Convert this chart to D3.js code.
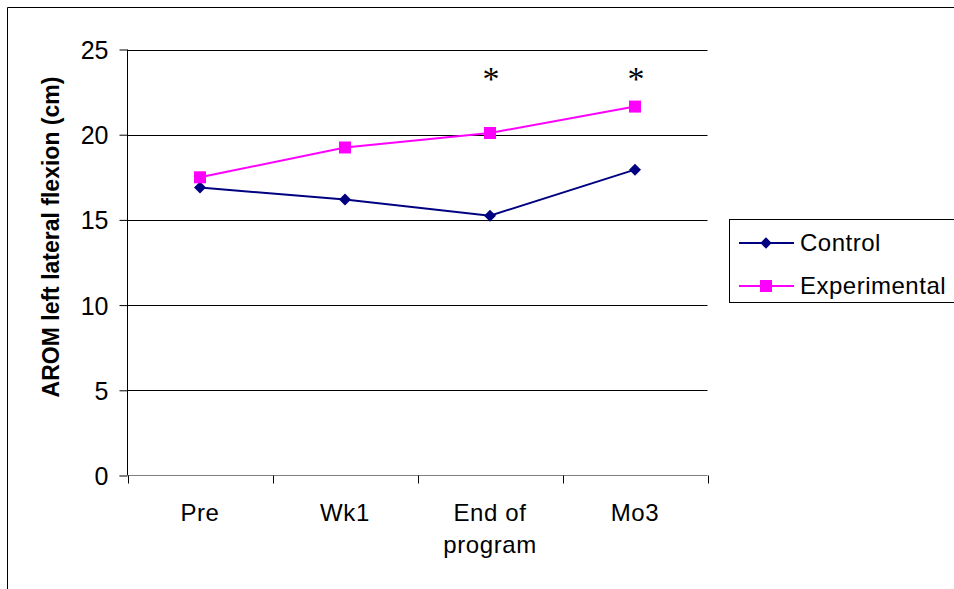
<!DOCTYPE html>
<html><head><meta charset="utf-8">
<script src="https://cdn.jsdelivr.net/npm/d3@7"></script>
<style>body{margin:0;background:#fff}svg{display:block}</style>
</head><body>
<script>
const categories = [["Pre"], ["Wk1"], ["End of", "program"], ["Mo3"]];
const seriesNames = ["Control", "Experimental"];
const control = [16.9, 16.2, 15.25, 17.95];
const experimental = [17.5, 19.25, 20.1, 21.65];
const yTicks = [0, 5, 10, 15, 20, 25];
const significant = [false, false, true, true];

(function() {
const W = 954, H = 589;
const svg = d3.select("body").append("svg").attr("width", W).attr("height", H);
svg.append("rect").attr("width", W).attr("height", H).attr("fill", "#fff");
svg.append("path").attr("d", `M7.5,${H}V7.5H${W}`).attr("fill", "none").attr("stroke", "#000").attr("stroke-width", 1);

const pL = 127.5, pR = 707.5, pT = 49.5, pB = 475.5;
const x = d3.scaleBand().domain(d3.range(categories.length)).range([pL, pR]);
const y = d3.scaleLinear().domain([0, 25]).range([pB, pT]);
const font = "'Liberation Sans', Arial, sans-serif";

svg.append("g").selectAll("line").data(yTicks.filter(d => d > 0)).join("line")
  .attr("x1", pL).attr("x2", pR).attr("y1", d => Math.round(y(d)) + 0.5).attr("y2", d => Math.round(y(d)) + 0.5)
  .attr("stroke", "#000").attr("stroke-width", 1);

const yAxis = svg.append("g").attr("transform", `translate(${pL},0)`)
  .call(d3.axisLeft(y).tickValues(yTicks).tickSize(8).tickPadding(11).tickFormat(d3.format("d")));
yAxis.select(".domain").attr("stroke", "#000").attr("d", `M0,${pT}V${pB}`);
yAxis.selectAll(".tick line").attr("stroke", "#000");
yAxis.selectAll("text").attr("font-family", font).attr("font-size", 25).attr("fill", "#000").attr("dy", "0.36em");

const xAxis = svg.append("g").attr("transform", `translate(0,${pB})`);
xAxis.append("line").attr("x1", pL - 8).attr("x2", pR).attr("y1", 0).attr("y2", 0).attr("stroke", "#808080");
xAxis.selectAll("line.tk").data(d3.range(categories.length + 1)).join("line").attr("class", "tk")
  .attr("x1", i => Math.round(pL + i * x.step()) + 0.5).attr("x2", i => Math.round(pL + i * x.step()) + 0.5)
  .attr("y1", 0).attr("y2", 8).attr("stroke", "#000");
const xl = xAxis.selectAll("text").data(categories).join("text")
  .attr("x", (d, i) => x(i) + x.bandwidth() / 2).attr("y", 45)
  .attr("text-anchor", "middle").attr("font-family", font).attr("font-size", 24).attr("letter-spacing", 0.6).attr("fill", "#000");
xl.each(function(d) {
  const tx = d3.select(this).attr("x");
  d3.select(this).selectAll("tspan").data(d).join("tspan")
    .attr("x", tx).attr("dy", (t, j) => j === 0 ? 0 : 32).text(t => t);
});

svg.append("text").attr("transform", `translate(59,237) rotate(-90)`)
  .attr("text-anchor", "middle").attr("font-family", font).attr("font-size", 23).attr("font-weight", "bold")
  .attr("fill", "#000").text("AROM left lateral flexion (cm)");

const cx = i => x(i) + x.bandwidth() / 2;
const line = d3.line().x((d, i) => cx(i)).y(d => y(d));
const colors = ["#000080", "#FF00FF"];
const data = [control, experimental];

data.forEach((vals, s) => {
  svg.append("path").datum(vals).attr("d", line).attr("fill", "none").attr("stroke", colors[s]).attr("stroke-width", 2);
});
svg.append("g").selectAll("path").data(control).join("path")
  .attr("d", d3.symbol(d3.symbolSquare, 72)).attr("fill", colors[0])
  .attr("transform", (d, i) => `translate(${cx(i)},${y(d)}) rotate(45)`);
svg.append("g").selectAll("rect").data(experimental).join("rect")
  .attr("x", (d, i) => cx(i) - 6).attr("y", d => y(d) - 6).attr("width", 12).attr("height", 12).attr("fill", colors[1]);

svg.append("g").selectAll("text").data(significant.map((v, i) => ({v, i})).filter(d => d.v)).join("text")
  .attr("x", d => cx(d.i) + 1).attr("y", 90).attr("text-anchor", "middle")
  .attr("font-family", "'Liberation Serif', 'Times New Roman', serif").attr("font-size", 34).attr("fill", "#000").text("*");

const lg = svg.append("g");
lg.append("rect").attr("x", 729.5).attr("y", 219.5).attr("width", 240).attr("height", 83).attr("fill", "#fff").attr("stroke", "#000");
seriesNames.forEach((n, s) => {
  const ly = 243 + s * 43;
  lg.append("line").attr("x1", 739).attr("x2", 794).attr("y1", ly).attr("y2", ly).attr("stroke", colors[s]).attr("stroke-width", 2);
  if (s === 0) lg.append("path").attr("d", d3.symbol(d3.symbolSquare, 64)).attr("fill", colors[0]).attr("transform", `translate(766,${ly}) rotate(45)`);
  else lg.append("rect").attr("x", 760).attr("y", ly - 6).attr("width", 12).attr("height", 12).attr("fill", colors[1]);
  lg.append("text").attr("x", 800).attr("y", ly + 8).attr("font-family", font).attr("font-size", 24).attr("letter-spacing", 0.5).attr("fill", "#000").text(n);
});
})();
</script>
</body></html>
